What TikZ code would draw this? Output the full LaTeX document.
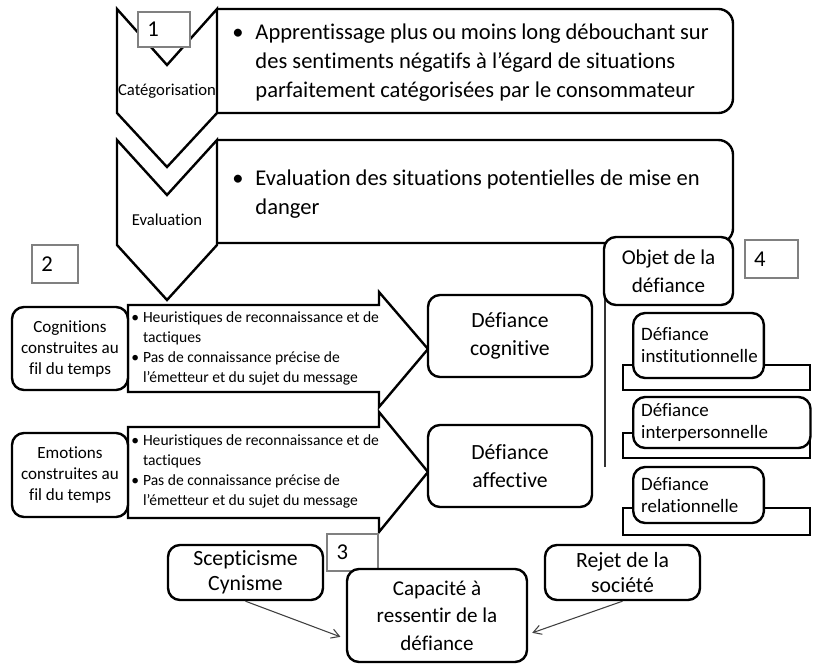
\documentclass[tikz,border=0pt]{standalone}
\usepackage{fontspec}
\setmainfont{Carlito}[Ligatures={NoCommon,NoRare,NoDiscretionary}]
\usetikzlibrary{arrows.meta, fit}
\newcommand{\fpanel}{\fontsize{16.9}{21.75}\selectfont}
\newcommand{\fchev}{\fontsize{12.5}{14}\selectfont}
\newcommand{\flist}{\fontsize{11.7}{15}\selectfont}
\newcommand{\fside}{\fontsize{12.8}{15.75}\selectfont}
\newcommand{\fdef}{\fontsize{16.25}{21}\selectfont}
\newcommand{\fobjet}{\fontsize{15.8}{21}\selectfont}
\newcommand{\fsub}{\fontsize{14.2}{16.5}\selectfont}
\newcommand{\fbottom}{\fontsize{16.3}{18.5}\selectfont}
\newcommand{\fcapa}{\fontsize{15.8}{20.6}\selectfont}
\tikzset{
    outline/.style={draw, line width=1.8pt, fill=white},
    panel/.style={draw, line width=1.8pt, rounded corners=11pt},
    rbox/.style 2 args={draw, line width=1.8pt, fill=white, rounded corners=9pt, inner sep=0pt, align=center, minimum width=#1, minimum height=#2},
    subbox/.style={draw, line width=1.8pt, fill=white, rounded corners=9pt, anchor=west, inner xsep=6pt, inner ysep=0pt, align=left, font=\fsub},
    strip/.style={draw, line width=1.8pt, fill=white, inner sep=0pt},
    numbox/.style 2 args={draw=gray, line width=1.3pt, fill=white, inner sep=0pt, text width=#1, minimum height=#2, align=left, font=\fontsize{17}{19}\selectfont},
    thinarr/.style={-{Straight Barb[length=6pt,width=7pt]}, draw=black!75, line width=0.8pt},
}
\begin{document}
\begin{tikzpicture}[x=0.75pt, y=-0.75pt]
\useasboundingbox (0,0) rectangle (813,668);

% Top - panels beside the chevrons
\draw[panel] (217,9) -- (733,9) -- (733,113) -- (217,113);
\draw[panel] (217,140) -- (733,140) -- (733,243) -- (217,243);
\node[anchor=base west, inner sep=0pt, font=\fpanel] (apprtext) at (232,39) {\begin{tabular}[t]{@{}l@{\hspace{9pt}}l@{}}
\textbullet & \makebox[340pt][s]{Apprentissage plus ou moins long débouchant sur}\\
 & des sentiments négatifs à l’égard de situations\\
 & parfaitement catégorisées par le consommateur
\end{tabular}};
\node[anchor=base west, inner sep=0pt, font=\fpanel] (evaltext) at (232,185) {\begin{tabular}[t]{@{}l@{\hspace{9pt}}l@{}}
\textbullet & Evaluation des situations potentielles de mise en\\
 & danger
\end{tabular}};

% Chevrons
\draw[outline] (117,9) -- (167,65) -- (217,9) -- (217,113) -- (167,167) -- (117,113) -- cycle;
\draw[outline] (117,140) -- (167,195) -- (217,140) -- (217,245) -- (167,300) -- (117,245) -- cycle;
\node[font=\fchev] (categ) at (167,91) {Catégorisation};
\node[font=\fchev] (evalu) at (167,220) {Evaluation};
\node[numbox={39pt}{26pt}] (num1) at (164,29.5) {\hspace*{7pt}1};

% Middle - block arrows
\draw[outline] (128,305) -- (379,305) -- (379,292) -- (428,349) -- (379,407) -- (379,392) -- (128,392) -- cycle;
\draw[outline] (128,427) -- (379,427) -- (379,412) -- (428,472) -- (379,532) -- (379,518) -- (128,518) -- cycle;
\node[anchor=base west, inner sep=0pt, font=\flist] (cogntext) at (131,322) {\begin{tabular}[t]{@{}l@{\hspace{3pt}}l@{}}
\textbullet & Heuristiques de reconnaissance et de\\
 & tactiques\\
\textbullet & Pas de connaissance précise de\\
 & l’émetteur et du sujet du message
\end{tabular}};
\node[anchor=base west, inner sep=0pt, font=\flist] (emottext) at (131,445) {\begin{tabular}[t]{@{}l@{\hspace{3pt}}l@{}}
\textbullet & Heuristiques de reconnaissance et de\\
 & tactiques\\
\textbullet & Pas de connaissance précise de\\
 & l’émetteur et du sujet du message
\end{tabular}};
\node[numbox={34.5pt}{28.5pt}] (num2) at (55,264) {\hspace*{7pt}2};
\node[rbox={87pt}{62.25pt}, font=\fside] (cogn) at (70,348.5) {Cognitions\\construites au\\fil du temps};
\node[rbox={87pt}{63pt}, font=\fside] (emot) at (70,475) {Emotions\\construites au\\fil du temps};
\node[rbox={123pt}{61.5pt}, font=\fdef] (dcog) at (510,336) {Défiance\\cognitive};
\node[rbox={123pt}{61.5pt}, font=\fdef] (daff) at (510,466) {Défiance\\affective};

% Right column - objet de la defiance
\coordinate (vend) at (605,467);
\draw[line width=1.2pt, black!80] (605,243) -- (vend);
\node[rbox={96.75pt}{51pt}, font=\fobjet] (objet) at (668.5,271) {Objet de la\\défiance};
\node[numbox={40pt}{28.5pt}] (num4) at (771.5,259) {\hspace*{7pt}4};
\node[strip, fit={(623,365) (810,390)}] (instbase) {};
\node[subbox, text width=86pt, minimum height=48.75pt] (dinst) at (632,345.5) {Défiance\\institutionnelle};
\node[strip, fit={(623,433) (810,458)}] (interbase) {};
\node[subbox, text width=121pt, minimum height=38.25pt] (dinter) at (632,422.5) {Défiance\\interpersonnelle};
\node[strip, fit={(623,508) (810,535)}] (relbase) {};
\node[subbox, text width=86pt, minimum height=42pt] (drel) at (632,495) {Défiance\\relationnelle};

% Bottom
\node[numbox={38pt}{28pt}] (num3) at (352.5,552.5) {\hspace*{7pt}3};
\node[rbox={116.25pt}{41.25pt}, font=\fbottom] (scep) at (245.5,572.5) {Scepticisme\\Cynisme};
\node[rbox={135pt}{69.75pt}, font=\fcapa] (capa) at (437,615.5) {Capacité à\\ressentir de la\\défiance};
\node[rbox={116.25pt}{41.25pt}, font=\fbottom] (rejet) at (622.5,572.5) {Rejet de la\\société};
\draw[thinarr] (scep.south) -- ([xshift=-4pt,yshift=-16pt]capa.west);
\draw[thinarr] (rejet.south) -- ([xshift=3pt,yshift=-13pt]capa.east);
\end{tikzpicture}
\end{document}
